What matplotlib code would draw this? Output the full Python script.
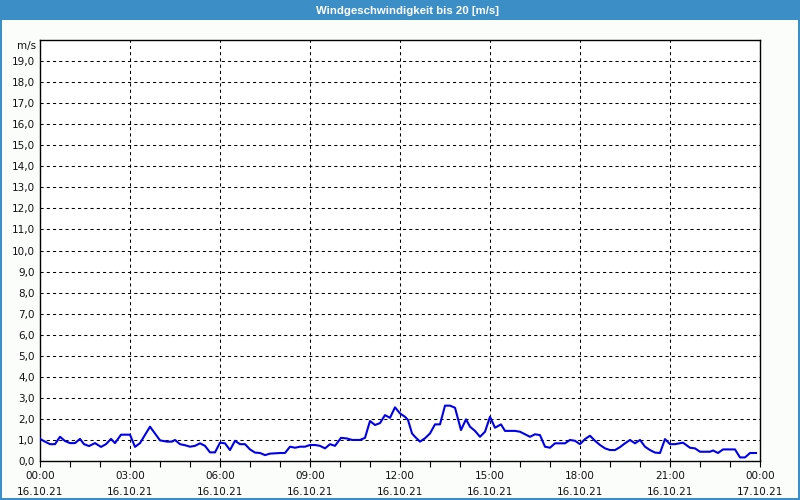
import matplotlib
matplotlib.use("Agg")
import matplotlib.pyplot as plt
from matplotlib.patches import Rectangle
from matplotlib.ticker import MultipleLocator, FixedLocator

title = "Windgeschwindigkeit bis 20 [m/s]"
unit = "m/s"

# minutes after 16.10.21 00:00
minutes = [0, 10, 20, 30, 40, 50, 60, 70, 80, 88, 98, 110, 122, 132, 142, 150, 162, 180,
           190, 200, 220, 240, 254, 264, 270, 280, 290, 300, 310, 320, 330, 340, 350, 360,
           370, 380, 390, 400, 410, 420, 430, 440, 450, 460, 480, 490, 500, 510, 520, 530,
           540, 550, 560, 570, 580, 590, 602, 614, 624, 640, 650, 660, 670, 680, 690, 700,
           710, 720, 730, 736, 744, 750, 760, 770, 780, 790, 800, 810, 820, 830, 842, 852,
           860, 870, 880, 890, 900, 910, 922, 930, 950, 960, 970, 980, 990, 1000, 1010,
           1020, 1030, 1050, 1060, 1070, 1080, 1090, 1100, 1110, 1120, 1130, 1140, 1150,
           1160, 1170, 1180, 1190, 1200, 1210, 1220, 1230, 1240, 1250, 1260, 1270, 1286,
           1300, 1310, 1320, 1340, 1346, 1356, 1366, 1390, 1400, 1410, 1420, 1432]
speed = [1.05, 0.92, 0.8, 0.8, 1.15, 0.95, 0.85, 0.85, 1.05, 0.8, 0.71, 0.85, 0.67, 0.8,
         1.05, 0.85, 1.25, 1.25, 0.67, 0.85, 1.63, 0.98, 0.92, 0.92, 1.0, 0.8, 0.75, 0.68,
         0.72, 0.84, 0.72, 0.41, 0.41, 0.87, 0.84, 0.52, 0.96, 0.8, 0.8, 0.55, 0.4, 0.38,
         0.28, 0.35, 0.38, 0.38, 0.68, 0.63, 0.68, 0.68, 0.76, 0.76, 0.72, 0.6, 0.8, 0.72,
         1.1, 1.07, 1.0, 1.0, 1.1, 1.9, 1.71, 1.8, 2.18, 2.05, 2.55, 2.26, 2.1, 1.95, 1.31,
         1.15, 0.92, 1.08, 1.31, 1.74, 1.74, 2.63, 2.63, 2.53, 1.47, 1.98, 1.63, 1.43, 1.15,
         1.39, 2.1, 1.58, 1.74, 1.43, 1.43, 1.39, 1.27, 1.15, 1.27, 1.23, 0.68, 0.63, 0.84,
         0.84, 1.0, 0.96, 0.8, 1.04, 1.2, 0.96, 0.76, 0.6, 0.52, 0.52, 0.66, 0.84, 1.0, 0.84,
         1.0, 0.68, 0.52, 0.4, 0.38, 1.04, 0.8, 0.8, 0.87, 0.63, 0.6, 0.44, 0.44, 0.5, 0.38,
         0.55, 0.55, 0.17, 0.17, 0.38, 0.38]

x_ticks_hours = [0, 3, 6, 9, 12, 15, 18, 21, 24]
x_tick_labels = ["00:00\n16.10.21", "03:00\n16.10.21", "06:00\n16.10.21", "09:00\n16.10.21",
                 "12:00\n16.10.21", "15:00\n16.10.21", "18:00\n16.10.21", "21:00\n16.10.21",
                 "00:00\n17.10.21"]

plt.rcParams['font.family'] = ['DejaVu Sans']

W, H = 800, 500
fig = plt.figure(figsize=(8, 5), dpi=100, facecolor="#fbfdfb")

# title bar and border
bar_h = 20
fig.patches.append(Rectangle((0, 1 - bar_h / H), 1, bar_h / H, transform=fig.transFigure,
                             facecolor="#3c8fc6", edgecolor="none", zorder=0))
for (x0, y0, w, h) in [(0, 0, 2 / W, 1), (1 - 2 / W, 0, 2 / W, 1), (0, 0, 1, 2 / H)]:
    fig.patches.append(Rectangle((x0, y0), w, h, transform=fig.transFigure,
                                 facecolor="#3c8fc6", edgecolor="none", zorder=0))
fig.text(408 / W, 1 - 10.5 / H, title, color="white", ha="center", va="center",
         fontsize=8.2, fontweight="bold", family=["Liberation Sans", "DejaVu Sans"])

left, right, top, bottom = 40, 760, 40, 461
ax = fig.add_axes([left / W, 1 - bottom / H, (right - left) / W, (bottom - top) / H])
ax.set_facecolor("#ffffff")

hours = [m / 60 for m in minutes]
ax.plot(hours, speed, color="#0000ee", linewidth=1.5, zorder=3)

ax.set_xlim(0, 24)
ax.set_ylim(0, 20)
ax.xaxis.set_major_locator(FixedLocator(x_ticks_hours))
ax.set_xticklabels(x_tick_labels, fontsize=7.5, color="#111111", linespacing=1.75)
ax.xaxis.set_minor_locator(MultipleLocator(1))
ax.set_yticks(range(0, 20))
ax.set_yticklabels([f"{v},0" for v in range(0, 20)], fontsize=7.5, color="#111111")
ax.tick_params(axis="x", which="both", direction="out", length=4, width=0.8, pad=3)
ax.tick_params(axis="y", which="both", length=0, pad=4)

ax.grid(True, which="major", color="black", linewidth=0.75, linestyle=(0, (3, 3)))
for s in ax.spines.values():
    s.set_color("black")
    s.set_linewidth(1.0)

ax.text(-0.006, 19.7, unit, transform=ax.get_yaxis_transform(), ha="right", va="center",
        fontsize=7.5, color="#111111")

fig.savefig("out.png", dpi=100, facecolor=fig.get_facecolor())
